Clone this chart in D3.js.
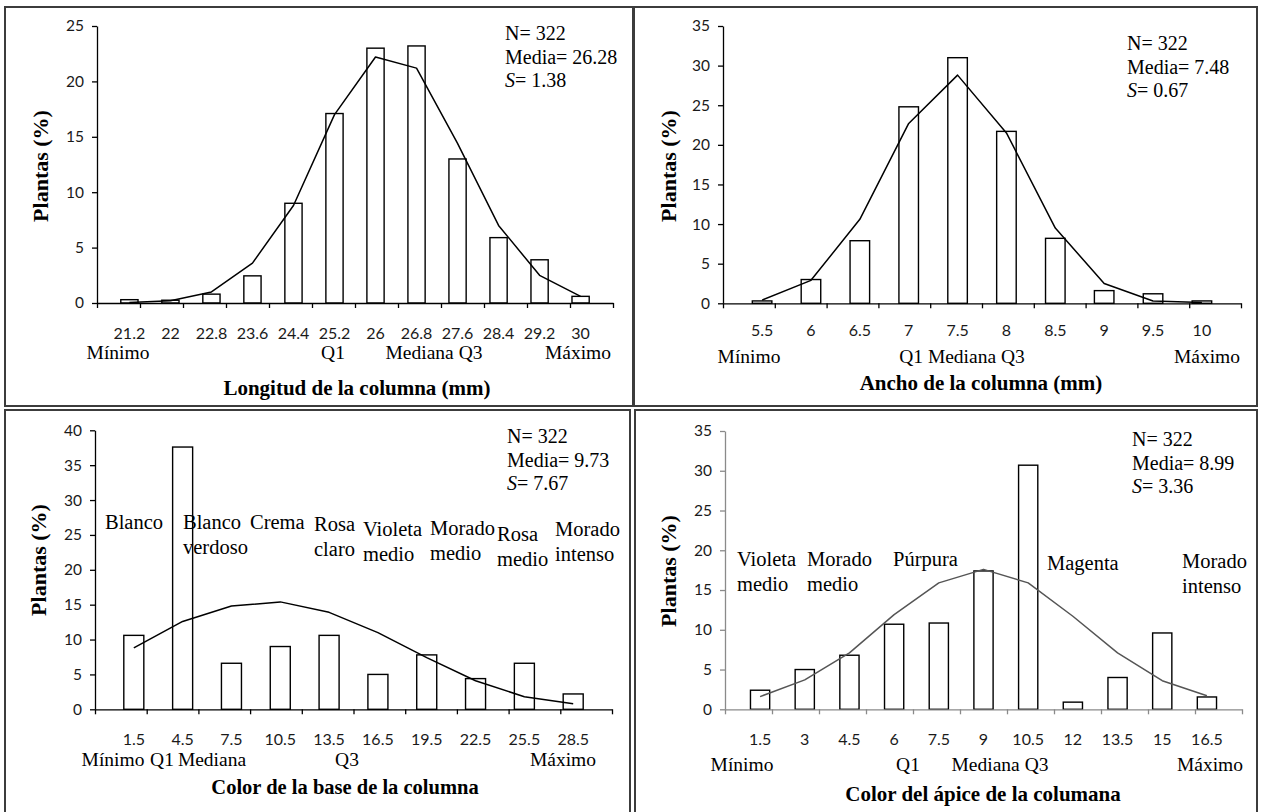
<!DOCTYPE html>
<html>
<head>
<meta charset="utf-8">
<script src="https://cdn.jsdelivr.net/npm/d3@7"></script>
</head>
<body style="margin:0;background:#fff">
<svg id="chart" width="1262" height="812" font-family="Liberation Serif"></svg>
<script>
// --- Longitud de la columna (mm)
const longCats  = ["21.2", "22", "22.8", "23.6", "24.4", "25.2", "26", "26.8", "27.6", "28.4", "29.2", "30"];
const longPct   = [0.3, 0.25, 0.8, 2.45, 9.0, 17.1, 23.0, 23.2, 13.0, 5.9, 3.9, 0.6];
const longCurve = [0.05, 0.2, 1.0, 3.6, 8.8, 17.0, 22.2, 21.2, 14.4, 7.0, 2.5, 0.6];
const longStats = ["322", "26.28", "1.38"];

// --- Ancho de la columna (mm)
const anchoCats  = ["5.5", "6", "6.5", "7", "7.5", "8", "8.5", "9", "9.5", "10"];
const anchoPct   = [0.3, 3.0, 7.9, 24.8, 31.0, 21.7, 8.2, 1.6, 1.2, 0.3];
const anchoCurve = [0.4, 2.9, 10.6, 22.7, 28.8, 21.5, 9.5, 2.5, 0.3, 0.1];
const anchoStats = ["322", "7.48", "0.67"];

// --- Color de la base de la columna
const baseCats   = ["1.5", "4.5", "7.5", "10.5", "13.5", "16.5", "19.5", "22.5", "25.5", "28.5"];
const basePct    = [10.6, 37.6, 6.6, 9.0, 10.6, 5.0, 7.8, 4.4, 6.6, 2.2];
const baseCurve  = [8.8, 12.6, 14.8, 15.4, 13.9, 11.0, 7.4, 4.1, 1.8, 0.8];
const baseStats  = ["322", "9.73", "7.67"];
const baseColors = [["Blanco"], ["Blanco", "verdoso"], ["Crema"], ["Rosa", "claro"], ["Violeta", "medio"],
                    ["Morado", "medio"], ["Rosa", "medio"], ["Morado", "intenso"]];

// --- Color del ápice de la columana
const apiceCats   = ["1.5", "3", "4.5", "6", "7.5", "9", "10.5", "12", "13.5", "15", "16.5"];
const apicePct    = [2.4, 5.0, 6.8, 10.7, 10.85, 17.4, 30.7, 0.9, 4.0, 9.6, 1.55];
const apiceCurve  = [1.6, 3.7, 7.1, 11.9, 15.9, 17.6, 15.9, 11.7, 7.1, 3.6, 1.7];
const apiceStats  = ["322", "8.99", "3.36"];
const apiceColors = [["Violeta", "medio"], ["Morado", "medio"], ["Púrpura"], ["Magenta"], ["Morado", "intenso"]];

const yTitle = "Plantas (%)";
const SERIF = "Liberation Serif";
const SANS = "Lato";

const panels = [
  {
    box: [5, 7, 633, 406], xr: [97, 613], yr: [303, 26], yMax: 25, pad: 0.58,
    cats: longCats, bars: longPct, curve: longCurve, stats: longStats,
    ink: "#000", curveInk: "#000",
    statsAt: [505, 33], tickY: 333, rowY: 352, titleY: 388, yTitleAt: [40, 166],
    row: [["Mínimo", 118], ["Q1", 333], ["Mediana Q3", 434], ["Máximo", 578]],
    title: "Longitud de la columna (mm)", titleX: 357, titleSize: 21,
    colors: [], colorAt: []
  },
  {
    box: [634, 7, 1257, 406], xr: [723, 1241], yr: [303.3, 26], yMax: 35, pad: 0.6,
    cats: anchoCats, bars: anchoPct, curve: anchoCurve, stats: anchoStats,
    ink: "#000", curveInk: "#000",
    statsAt: [1127, 43], tickY: 330, rowY: 356, titleY: 383, yTitleAt: [668, 166],
    row: [["Mínimo", 749], ["Q1 Mediana Q3", 962], ["Máximo", 1207]],
    title: "Ancho de la columna (mm)", titleX: 981, titleSize: 21,
    colors: [], colorAt: []
  },
  {
    box: [5, 410, 630, 815], xr: [95, 612], yr: [709.3, 430.3], yMax: 40, pad: 0.59,
    cats: baseCats, bars: basePct, curve: baseCurve, stats: baseStats,
    ink: "#000", curveInk: "#000",
    statsAt: [507, 436], tickY: 739, rowY: 759, titleY: 787, yTitleAt: [38, 560],
    row: [["Mínimo", 113], ["Q1", 162], ["Mediana", 212], ["Q3", 347], ["Máximo", 563]],
    title: "Color de la base de la columna", titleX: 345, titleSize: 20.5,
    colors: baseColors,
    colorAt: [[105, 522], [183, 522], [250, 522], [314, 524], [363, 529], [430, 528], [497, 534], [555, 529]]
  },
  {
    box: [635, 410, 1257, 815], xr: [725, 1242], yr: [709.3, 431], yMax: 35, pad: 0.57,
    cats: apiceCats, bars: apicePct, curve: apiceCurve, stats: apiceStats,
    ink: "#8a8a8a", curveInk: "#555",
    statsAt: [1132, 439], tickY: 739, rowY: 764, titleY: 794, yTitleAt: [668, 571],
    row: [["Mínimo", 742], ["Q1", 908], ["Mediana Q3", 1000], ["Máximo", 1210]],
    title: "Color del ápice de la columana", titleX: 983, titleSize: 21,
    colors: apiceColors,
    colorAt: [[737, 559], [807, 559], [893, 559], [1047, 563], [1182, 561]]
  }
];

const svg = d3.select("#chart");

function drawPanel(p) {
  // frame
  svg.append("rect")
    .attr("x", p.box[0]).attr("y", p.box[1])
    .attr("width", p.box[2] - p.box[0]).attr("height", p.box[3] - p.box[1])
    .attr("fill", "none").attr("stroke", "#3c3c3c").attr("stroke-width", 2);

  const x = d3.scaleBand().domain(p.cats).range(p.xr).padding(p.pad);
  const xEdge = d3.scaleLinear().domain([0, p.cats.length]).range(p.xr);
  const y = d3.scaleLinear().domain([0, p.yMax]).range(p.yr);
  const cx = c => x(c) + x.bandwidth() / 2;

  // histogram bars
  svg.append("g").selectAll("rect")
    .data(p.bars)
    .join("rect")
    .attr("x", (d, i) => x(p.cats[i]))
    .attr("y", d => y(d))
    .attr("width", x.bandwidth())
    .attr("height", d => y(0) - y(d))
    .attr("fill", "#fff")
    .attr("stroke", "#000")
    .attr("stroke-width", 1.4);

  // y axis
  const ya = svg.append("g")
    .attr("transform", `translate(${p.xr[0]},0)`)
    .call(d3.axisLeft(y).tickValues(d3.range(0, p.yMax + 1, 5)).tickSize(5).tickSizeOuter(0).tickPadding(8));
  ya.attr("font-family", SANS).attr("font-size", 15.5);
  ya.select(".domain").attr("stroke", p.ink).attr("stroke-width", 1.3);
  ya.selectAll(".tick line").attr("stroke", p.ink).attr("stroke-width", 1.3);
  ya.selectAll(".tick text").attr("fill", "#1a1a1a");

  // x axis with ticks at the class boundaries
  const xa = svg.append("g")
    .attr("transform", `translate(0,${y(0)})`)
    .call(d3.axisBottom(xEdge).tickValues(d3.range(0, p.cats.length + 1)).tickSize(5).tickSizeOuter(0).tickFormat(""));
  xa.select(".domain").attr("stroke", p.ink).attr("stroke-width", 1.3);
  xa.selectAll(".tick line").attr("stroke", p.ink).attr("stroke-width", 1.3);

  // class labels centred on each bar
  p.cats.forEach(c => {
    svg.append("text")
      .attr("x", cx(c)).attr("y", p.tickY).attr("dy", "0.35em")
      .attr("text-anchor", "middle")
      .attr("font-family", SANS).attr("font-size", 16).attr("fill", "#1a1a1a")
      .text(c);
  });

  // fitted curve
  const line = d3.line().x((d, i) => cx(p.cats[i])).y(d => y(d));
  svg.append("path")
    .datum(p.curve)
    .attr("d", line)
    .attr("fill", "none")
    .attr("stroke", p.curveInk)
    .attr("stroke-width", 1.5)
    .attr("stroke-linejoin", "round");

  // summary statistics
  const statLine = (k) => svg.append("text")
    .attr("x", p.statsAt[0]).attr("y", p.statsAt[1] + k * 23.5).attr("dy", "0.35em")
    .attr("font-family", SERIF).attr("font-size", 20).attr("fill", "#000");
  statLine(0).text("N= " + p.stats[0]);
  statLine(1).text("Media= " + p.stats[1]);
  const s = statLine(2);
  s.append("tspan").attr("font-style", "italic").text("S");
  s.append("tspan").text("= " + p.stats[2]);

  // quartile markers under the class labels
  p.row.forEach(r => {
    svg.append("text")
      .attr("x", r[1]).attr("y", p.rowY).attr("dy", "0.35em")
      .attr("text-anchor", "middle")
      .attr("font-family", SERIF).attr("font-size", 19.5).attr("fill", "#000")
      .text(r[0]);
  });

  // colour names
  p.colors.forEach((lines, i) => {
    lines.forEach((ln, j) => {
      svg.append("text")
        .attr("x", p.colorAt[i][0])
        .attr("y", p.colorAt[i][1] + j * 24.5)
        .attr("dy", "0.35em")
        .attr("font-family", SERIF).attr("font-size", 20.5).attr("fill", "#000")
        .text(ln);
    });
  });

  // axis titles
  svg.append("text")
    .attr("x", p.titleX).attr("y", p.titleY).attr("dy", "0.35em")
    .attr("text-anchor", "middle")
    .attr("font-family", SERIF).attr("font-size", p.titleSize).attr("font-weight", "bold").attr("fill", "#000")
    .text(p.title);

  svg.append("text")
    .attr("transform", `translate(${p.yTitleAt[0]},${p.yTitleAt[1]}) rotate(-90)`)
    .attr("dy", "0.35em")
    .attr("text-anchor", "middle")
    .attr("font-family", SERIF).attr("font-size", 22).attr("font-weight", "bold").attr("fill", "#000")
    .text(yTitle);
}

panels.forEach(drawPanel);
</script>
</body>
</html>
